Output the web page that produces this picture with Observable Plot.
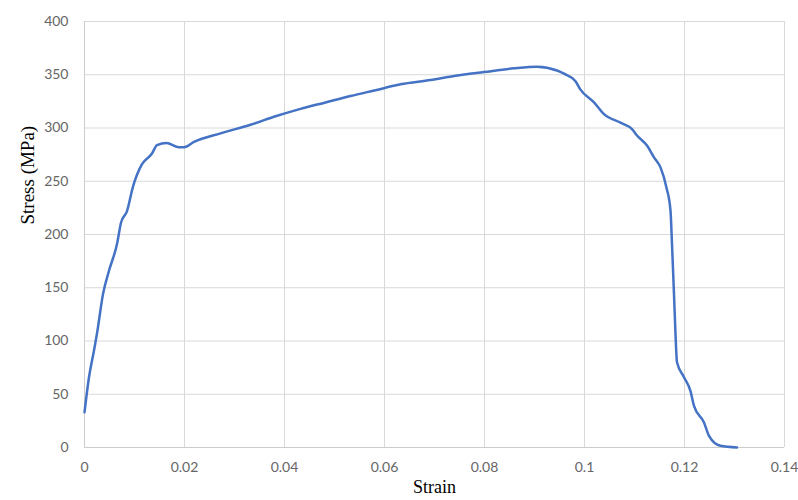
<!DOCTYPE html>
<html>
<head>
<meta charset="utf-8">
<script src="https://cdn.jsdelivr.net/npm/d3@7"></script>
<script src="https://cdn.jsdelivr.net/npm/@observablehq/plot@0.6"></script>
<style>
  html, body { margin: 0; padding: 0; background: #fff; }
  #chart svg { display: block; }
</style>
</head>
<body>
<div id="chart"></div>
<script>
const strain = [0, 0.0009, 0.0019, 0.0025, 0.0037, 0.0049, 0.0065, 0.0073, 0.0085, 0.0097,
  0.0115, 0.0135, 0.0145, 0.0164, 0.0189, 0.0199, 0.0219, 0.0272, 0.0332, 0.0382, 0.0432,
  0.0482, 0.0532, 0.0582, 0.0632, 0.0692, 0.0742, 0.0799, 0.0859, 0.0905, 0.0945, 0.0959, 0.0982, 0.0992,
  0.1019, 0.1039, 0.1072, 0.1095, 0.1105, 0.1125, 0.1139, 0.1152, 0.1164, 0.1172,
  0.1175, 0.1179, 0.1182, 0.1185, 0.1199, 0.1212, 0.1219, 0.1239, 0.1249, 0.1272, 0.1305];
const stress = [33, 66, 91, 107, 144, 166, 191, 211, 222, 245,
  266, 276, 284, 286, 282, 282, 287, 295, 303, 311, 318,
  324, 330, 335.5, 341, 345, 349, 352.5, 356, 357.5, 354, 351, 344, 336,
  324, 313, 305, 299, 293, 283.5, 272.5, 263, 244, 222.5,
  191, 144, 106.5, 80, 66, 53, 39, 23.5, 11, 1.6, 0];

const xTicks = [0, 0.02, 0.04, 0.06, 0.08, 0.1, 0.12, 0.14];
const xTickLabels = ["0", "0.02", "0.04", "0.06", "0.08", "0.1", "0.12", "0.14"];
const yTicks = [0, 50, 100, 150, 200, 250, 300, 350, 400];
const xLabel = "Strain";
const yLabel = "Stress (MPa)";

const data = strain.map((s, i) => ({strain: s, stress: stress[i]}));

const chart = Plot.plot({
  width: 798,
  height: 500,
  marginLeft: 84,
  marginRight: 14,
  marginTop: 21,
  marginBottom: 53,
  style: {fontFamily: "Lato, sans-serif", fontSize: "14px", color: "#666", background: "#fff"},
  x: {domain: [0, 0.14], ticks: xTicks, tickFormat: d => xTickLabels[xTicks.indexOf(d)] ?? ""},
  y: {domain: [0, 400], ticks: yTicks},
  marks: [
    Plot.gridX(xTicks, {stroke: "#d9d9d9", strokeOpacity: 1}),
    Plot.gridY(yTicks, {stroke: "#d9d9d9", strokeOpacity: 1}),
    Plot.ruleX([0], {stroke: "#cccccc"}),
    Plot.ruleY([0], {stroke: "#cccccc"}),
    Plot.axisX(xTicks, {tickSize: 0, tickPadding: 15, label: null, fill: "#666", fontSize: 14,
      tickFormat: d => xTickLabels[xTicks.indexOf(d)] ?? ""}),
    Plot.axisY(yTicks, {tickSize: 0, tickPadding: 16, label: null, fill: "#666", fontSize: 14}),
    Plot.line(data, {x: "strain", y: "stress", stroke: "#4472C4", strokeWidth: 2.5, curve: "monotone-x"}),
    Plot.text([xLabel], {frameAnchor: "bottom", dy: 45, text: d => d, fontFamily: "Liberation Serif",
      fontSize: 18, fill: "#000", lineAnchor: "bottom"}),
    Plot.text([yLabel], {frameAnchor: "left", dx: -57, dy: -10, rotate: -90, text: d => d, fontFamily: "Liberation Serif",
      fontSize: 19, fill: "#000"})
  ]
});
document.getElementById("chart").appendChild(chart);
</script>
</body>
</html>
